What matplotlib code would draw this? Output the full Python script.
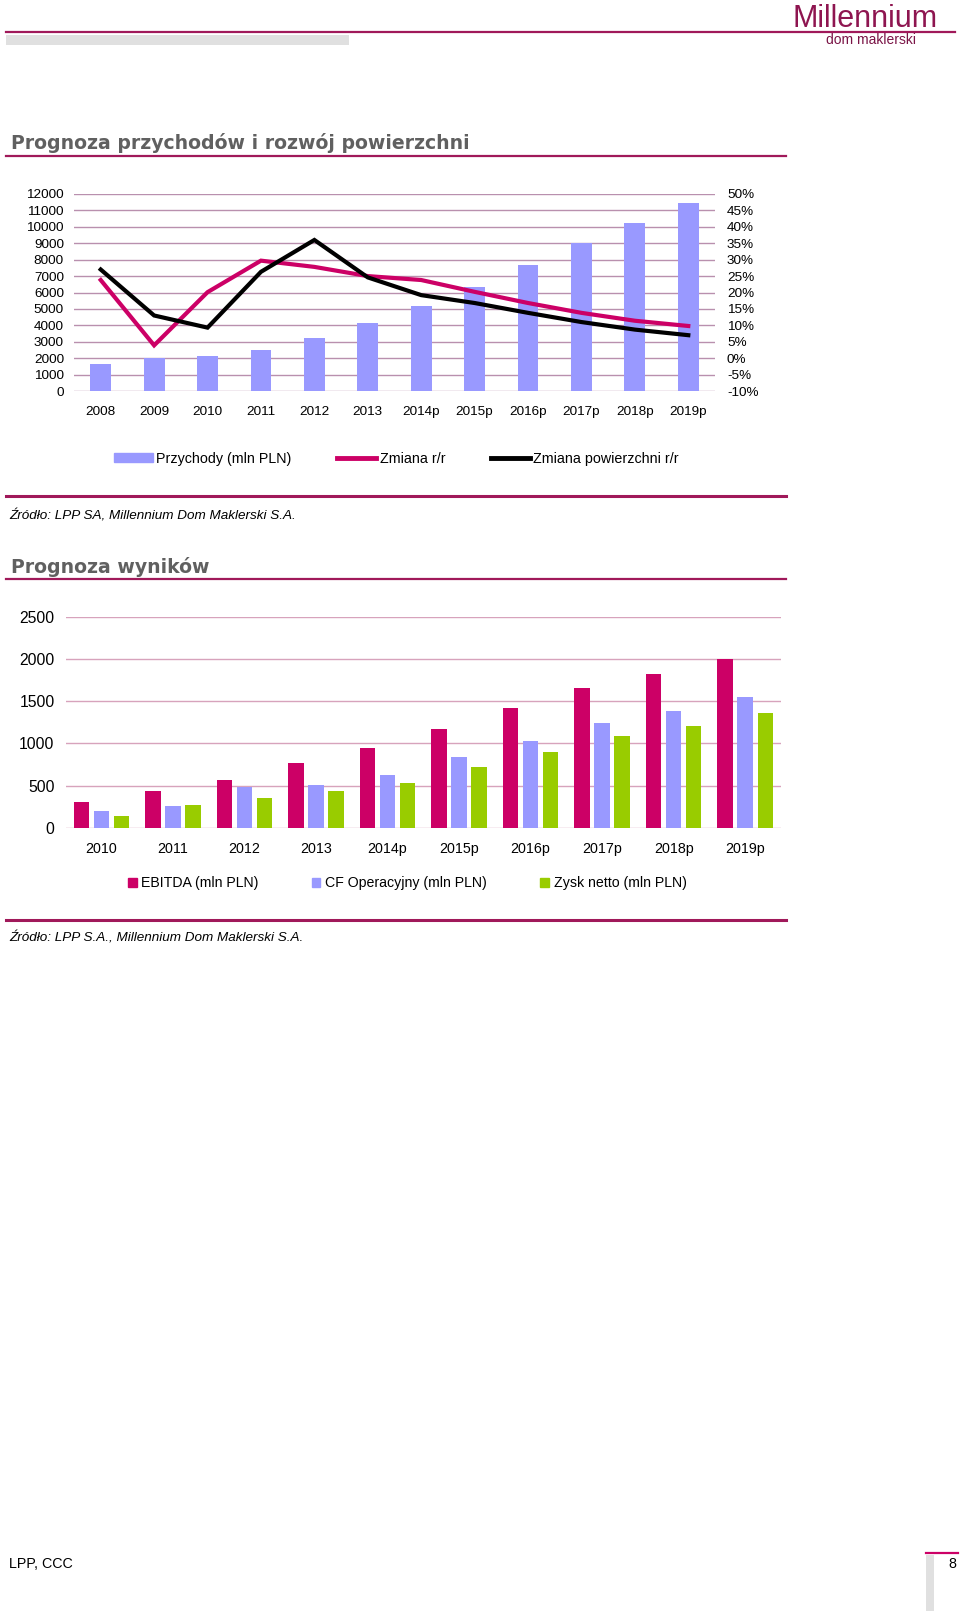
import numpy as np
import matplotlib
matplotlib.use('Agg')
import matplotlib.pyplot as plt
from matplotlib.patches import Patch, Rectangle
from matplotlib.lines import Line2D

plt.rcParams['font.family'] = ['Liberation Sans', 'DejaVu Sans']

# --- dane: przychody i powierzchnia ---
lata1 = ['2008', '2009', '2010', '2011', '2012', '2013', '2014p',
         '2015p', '2016p', '2017p', '2018p', '2019p']
przychody = [1660, 2030, 2110, 2520, 3250, 4120, 5160, 6360, 7650, 9010, 10250, 11450]
zmiana_rr = [23.8, 3.9, 20.1, 29.7, 27.8, 25.0, 23.8, 20.2, 16.8, 13.8, 11.4, 9.8]
zmiana_pow = [27.0, 13.0, 9.3, 26.3, 36.0, 24.6, 19.2, 16.8, 13.8, 11.0, 8.7, 7.0]

# --- dane: prognoza wynikow ---
lata2 = ['2010', '2011', '2012', '2013', '2014p', '2015p', '2016p', '2017p', '2018p', '2019p']
ebitda = [300, 438, 565, 766, 944, 1173, 1418, 1659, 1817, 2002]
cf_oper = [197, 253, 478, 509, 620, 837, 1027, 1240, 1378, 1548]
zysk_netto = [134, 269, 352, 434, 525, 723, 897, 1082, 1205, 1359]

MAG = '#CC0066'
FIO = '#9999FF'
ZIE = '#99CC00'
W, H = 960, 1611

fig = plt.figure(figsize=(W / 100, H / 100), dpi=100)


def box(x0, y0, x1, y1):
    # piksele (od gory) -> wspolrzedne figury
    return [x0 / W, 1 - y1 / H, (x1 - x0) / W, (y1 - y0) / H]


# strona (dekoracje w pikselach)
page = fig.add_axes([0, 0, 1, 1], zorder=-5)
page.set_xlim(0, W)
page.set_ylim(H, 0)
page.axis('off')

page.plot([6, 955], [32, 32], color='#A0195A', lw=1.6)
page.add_patch(Rectangle((6, 34.5), 343, 10.5, color='#E0E0E0', lw=0))
page.text(865, 19, 'Millennium', color='#8E1550', fontsize=22, ha='center', va='center')
page.text(871, 40, 'dom maklerski', color='#7A1446', fontsize=10, ha='center', va='center')

page.text(11, 143, 'Prognoza przychodów i rozwój powierzchni', color='#606060',
          fontsize=13.6, fontweight='bold', family='DejaVu Sans', va='center')
page.plot([6, 786], [156, 156], color='#A0195A', lw=1.6)

page.plot([6, 786], [496, 496], color='#A0195A', lw=2.2)
page.text(9, 516, 'Źródło: LPP SA, Millennium Dom Maklerski S.A.', fontsize=9.7,
          style='italic', va='center')

page.text(11, 567, 'Prognoza wyników', color='#606060',
          fontsize=13.6, fontweight='bold', family='DejaVu Sans', va='center')
page.plot([6, 786], [579, 579], color='#A0195A', lw=1.6)

page.plot([6, 786], [920, 920], color='#A0195A', lw=2.2)
page.text(9, 938, 'Źródło: LPP S.A., Millennium Dom Maklerski S.A.', fontsize=9.7,
          style='italic', va='center')

page.text(9, 1564, 'LPP, CCC', fontsize=10.3, va='center')
page.plot([926, 958], [1553, 1553], color=MAG, lw=1.6)
page.add_patch(Rectangle((926, 1555), 8, 56, color='#E0E0E0', lw=0))
page.text(952, 1564, '8', fontsize=10.3, ha='center', va='center')

# --- wykres 1 ---
ax1 = fig.add_axes(box(74, 194, 715, 391))
x1 = np.arange(len(lata1))
ax1.bar(x1, przychody, width=0.39, color=FIO, zorder=2)
ax1.set_xlim(-0.5, len(lata1) - 0.5)
ax1.set_ylim(0, 12000)
ax1.set_yticks(np.arange(0, 12001, 1000))
ax1.set_xticks(x1)
ax1.set_xticklabels(lata1)
ax1.set_axisbelow(True)
ax1.yaxis.grid(True, color='#B990AE', lw=1)
for s in ax1.spines.values():
    s.set_visible(False)
ax1.tick_params(axis='y', length=0, pad=7.2, labelsize=9.7)
ax1.tick_params(axis='x', length=0, pad=10.5, labelsize=9.7)

ax1b = ax1.twinx()
ax1b.plot(x1, zmiana_rr, color=MAG, lw=3, solid_joinstyle='miter')
ax1b.plot(x1, zmiana_pow, color='black', lw=3, solid_joinstyle='miter')
ax1b.set_ylim(-10, 50)
ax1b.set_yticks(np.arange(-10, 51, 5))
ax1b.set_yticklabels([f'{v}%' for v in range(-10, 51, 5)])
for s in ax1b.spines.values():
    s.set_visible(False)
ax1b.tick_params(axis='y', length=0, pad=8.6, labelsize=9.7)

h1 = [Patch(color=FIO), Line2D([], [], color=MAG, lw=3.5), Line2D([], [], color='black', lw=3.5)]
fig.legend(h1, ['Przychody (mln PLN)', 'Zmiana r/r', 'Zmiana powierzchni r/r'],
           loc='center left', bbox_to_anchor=(114 / W, 1 - 459 / H), ncol=3,
           frameon=False, fontsize=10.3, handlelength=2.7, handleheight=0.6,
           handletextpad=0.25, columnspacing=3.2, borderpad=0, borderaxespad=0)

# --- wykres 2 ---
ax2 = fig.add_axes(box(65.7, 616.7, 781, 827.7))
x2 = np.arange(len(lata2))
bw = 0.217
off = 0.28
ax2.bar(x2 - off, ebitda, width=bw, color=MAG, zorder=2)
ax2.bar(x2, cf_oper, width=bw, color=FIO, zorder=2)
ax2.bar(x2 + off, zysk_netto, width=bw, color=ZIE, zorder=2)
ax2.set_xlim(-0.5, len(lata2) - 0.5)
ax2.set_ylim(0, 2500)
ax2.set_yticks(np.arange(0, 2501, 500))
ax2.set_xticks(x2)
ax2.set_xticklabels(lata2)
ax2.set_axisbelow(True)
ax2.yaxis.grid(True, color='#D7A3BC', lw=1)
for s in ax2.spines.values():
    s.set_visible(False)
ax2.tick_params(axis='y', length=0, pad=8, labelsize=11.3)
ax2.tick_params(axis='x', length=0, pad=10, labelsize=10.3)

h2 = [Patch(color=MAG), Patch(color=FIO), Patch(color=ZIE)]
fig.legend(h2, ['EBITDA (mln PLN)', 'CF Operacyjny (mln PLN)', 'Zysk netto (mln PLN)'],
           loc='center left', bbox_to_anchor=(128 / W, 1 - 883 / H), ncol=3,
           frameon=False, fontsize=10.2, handlelength=0.6, handleheight=0.6,
           handletextpad=0.35, columnspacing=3.75, borderpad=0, borderaxespad=0)

fig.savefig('out.png', dpi=100)
